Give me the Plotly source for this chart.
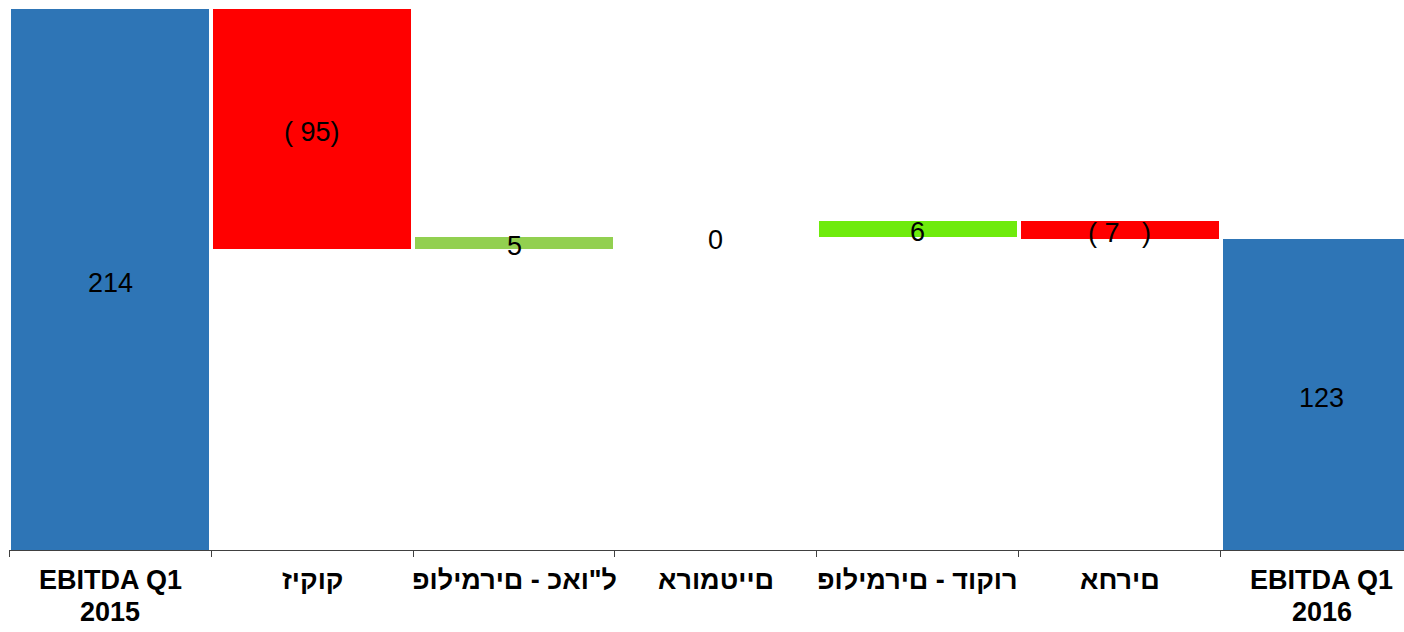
import plotly.graph_objects as go

# ---- data ----
categories = ["EBITDA Q1\n2015", "זיקוק", "פולימרים - כאו\"ל", "ארומטיים",
              "פולימרים - דוקור", "אחרים", "EBITDA Q1\n2016"]
measures = ["total", "relative", "relative", "relative", "relative", "relative", "total"]
values = [214, -95, 5, 0, 6, -7, 123]
value_labels = ["214", "( 95)", "5", "0", "6", "( 7\u2007\u00a0)", "123"]
bar_colors = ["#2E75B6", "#FF0000", "#92D050", "#92D050", "#6EEB0C", "#FF0000", "#2E75B6"]

FONT = "Liberation Sans, Arial, sans-serif"
LRO, PDF = "\u202d", "\u202c"  # the reference lays the Hebrew glyphs out left-to-right

# compute bases for the floating bars
bases, heights = [], []
running = 0
for m, v in zip(measures, values):
    if m == "total":
        bases.append(0)
        heights.append(v)
        running = v
    else:
        bases.append(running)
        heights.append(v)
        running += v

xs = list(range(len(categories)))

fig = go.Figure()
fig.add_trace(go.Bar(
    x=xs, y=heights, base=bases,
    marker=dict(color=bar_colors, line=dict(width=0)),
    width=0.985,
    hoverinfo="skip",
    showlegend=False,
))

annotations = []
for i, (b, h, lab) in enumerate(zip(bases, heights, value_labels)):
    annotations.append(dict(
        x=i, y=b + h / 2, xref="x", yref="y", text=lab, showarrow=False,
        font=dict(family=FONT, size=27, color="#000000"),
        yshift=-3,
    ))

for i, cat in enumerate(categories):
    for j, line in enumerate(cat.split("\n")):
        annotations.append(dict(
            x=i, y=0, xref="x", yref="paper", text="<b>" + LRO + line + PDF + "</b>",
            showarrow=False, yanchor="middle",
            font=dict(family=FONT, size=27, color="#000000"),
            yshift=-30 - 32 * j,
        ))

fig.update_layout(
    width=1404, height=632,
    margin=dict(l=9, r=0, t=9, b=82),
    paper_bgcolor="white", plot_bgcolor="white",
    bargap=0,
    annotations=annotations,
    xaxis=dict(
        range=[-0.5, 6.406], showgrid=False, zeroline=False,
        showline=True, linecolor="#404040", linewidth=1,
        tickvals=[i - 0.5 for i in xs], ticks="outside", ticklen=6,
        tickcolor="#404040", tickwidth=1, showticklabels=False,
    ),
    yaxis=dict(range=[0, 214], visible=False, showgrid=False, zeroline=False),
)

fig.write_html(
    "out.html",
    config={"displayModeBar": False},
    post_script="document.body.style.margin='0';document.body.style.overflow='hidden';",
)
